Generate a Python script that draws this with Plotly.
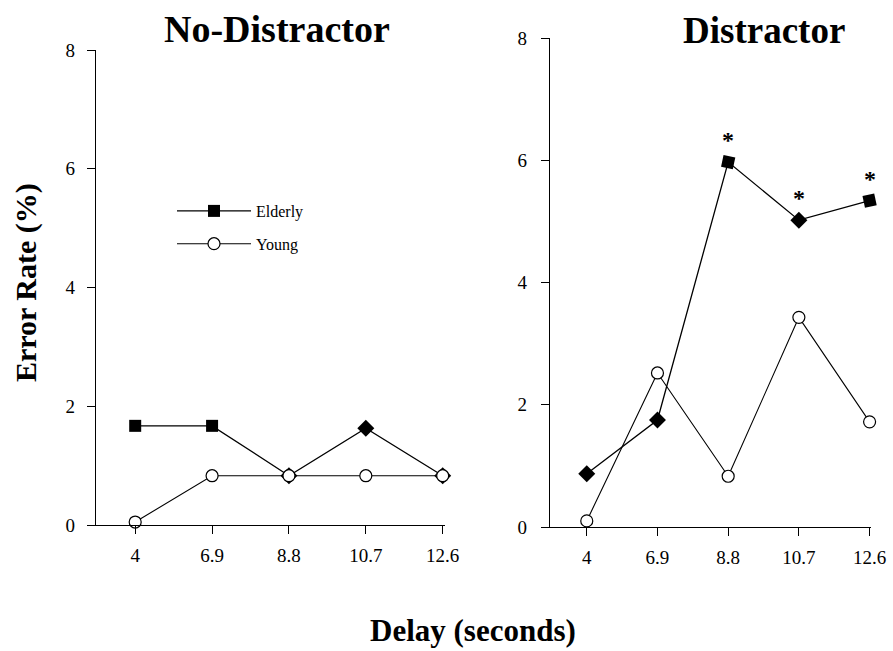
import plotly.graph_objects as go

delays = ["4", "6.9", "8.8", "10.7", "12.6"]
nd_elderly = [1.67, 1.67, 0.83, 1.63, 0.83]
nd_young = [0.05, 0.83, 0.83, 0.83, 0.83]
d_elderly = [0.87, 1.75, 5.97, 5.02, 5.34]
d_young = [0.10, 2.52, 0.83, 3.43, 1.72]
sig_points = ["8.8", "10.7", "12.6"]
y_ticks = [0, 2, 4, 6, 8]

FONT = "Liberation Serif, Times New Roman, serif"
W, H = 893, 651

nd_elderly_angle = [0, 0, 45, 45, 45]
d_elderly_angle = [45, 45, 12, 45, -12]

fig = go.Figure()

elderly_style = dict(mode="lines+markers", cliponaxis=False,
                     line=dict(color="black", width=1.3))
young_style = dict(mode="lines+markers", cliponaxis=False,
                   line=dict(color="black", width=1.1),
                   marker=dict(symbol="circle", size=12, color="white",
                               line=dict(color="black", width=1.2)))

fig.add_trace(go.Scatter(x=delays, y=nd_elderly, name="Elderly", xaxis="x", yaxis="y",
                         marker=dict(symbol="square", size=12, color="black",
                                     angle=nd_elderly_angle),
                         legendgroup="e", **elderly_style))
fig.add_trace(go.Scatter(x=delays, y=nd_young, name="Young", xaxis="x", yaxis="y",
                         legendgroup="y", **young_style))
fig.add_trace(go.Scatter(x=delays, y=d_elderly, name="Elderly", xaxis="x2", yaxis="y2",
                         marker=dict(symbol="square", size=12, color="black",
                                     angle=d_elderly_angle),
                         showlegend=False, **elderly_style))
fig.add_trace(go.Scatter(x=delays, y=d_young, name="Young", xaxis="x2", yaxis="y2",
                         showlegend=False, **young_style))

for xv in sig_points:
    i = delays.index(xv)
    fig.add_annotation(x=i, y=d_elderly[i], xref="x2", yref="y2",
                       text="<b>*</b>", showarrow=False, yshift=22,
                       xanchor="center", yanchor="middle",
                       font=dict(family=FONT, size=24, color="black"))

axis_common = dict(showline=True, linecolor="black", linewidth=1.3, ticks="outside",
                   ticklen=8, tickwidth=1.2, tickcolor="black", showgrid=False,
                   zeroline=False, automargin=False,
                   tickfont=dict(family=FONT, size=19, color="black"))

fig.update_layout(
    width=W, height=H,
    margin=dict(l=0, r=0, t=0, b=0),
    paper_bgcolor="white", plot_bgcolor="white",
    xaxis=dict(domain=[96 / W, 445 / W], type="category", range=[-0.51, 4.03],
               anchor="y", ticklabelstandoff=5, **axis_common),
    yaxis=dict(domain=[126 / H, 601 / H], range=[0, 8], tickvals=y_ticks,
               anchor="x", ticklabelstandoff=8, **axis_common),
    xaxis2=dict(domain=[550 / W, 871 / W], type="category", range=[-0.52, 4.02],
                anchor="y2", ticklabelstandoff=5, **axis_common),
    yaxis2=dict(domain=[124 / H, 613 / H], range=[0, 8], tickvals=y_ticks,
                anchor="x2", ticklabelstandoff=10, **axis_common),
    showlegend=True,
    legend=dict(x=172 / W, y=(H - 194) / H, xanchor="left", yanchor="top",
                bgcolor="rgba(0,0,0,0)", itemwidth=74, tracegroupgap=9,
                traceorder="grouped",
                font=dict(family=FONT, size=16, color="black")),
)

fig.add_annotation(x=277 / W, y=(H - 29) / H, xref="paper", yref="paper",
                   text="<b>No-Distractor</b>", showarrow=False,
                   xanchor="center", yanchor="middle",
                   font=dict(family=FONT, size=38, color="black"))
fig.add_annotation(x=764 / W, y=(H - 30) / H, xref="paper", yref="paper",
                   text="<b>Distractor</b>", showarrow=False,
                   xanchor="center", yanchor="middle",
                   font=dict(family=FONT, size=37, color="black"))
fig.add_annotation(x=26 / W, y=(H - 283) / H, xref="paper", yref="paper",
                   text="<b>Error Rate (%)</b>", showarrow=False, textangle=-90,
                   xanchor="center", yanchor="middle",
                   font=dict(family=FONT, size=30, color="black"))
fig.add_annotation(x=473 / W, y=(H - 630) / H, xref="paper", yref="paper",
                   text="<b>Delay (seconds)</b>", showarrow=False,
                   xanchor="center", yanchor="middle",
                   font=dict(family=FONT, size=31, color="black"))

fig.write_html("out.html", config={"displayModeBar": False},
               post_script="document.body.style.margin='0';")
